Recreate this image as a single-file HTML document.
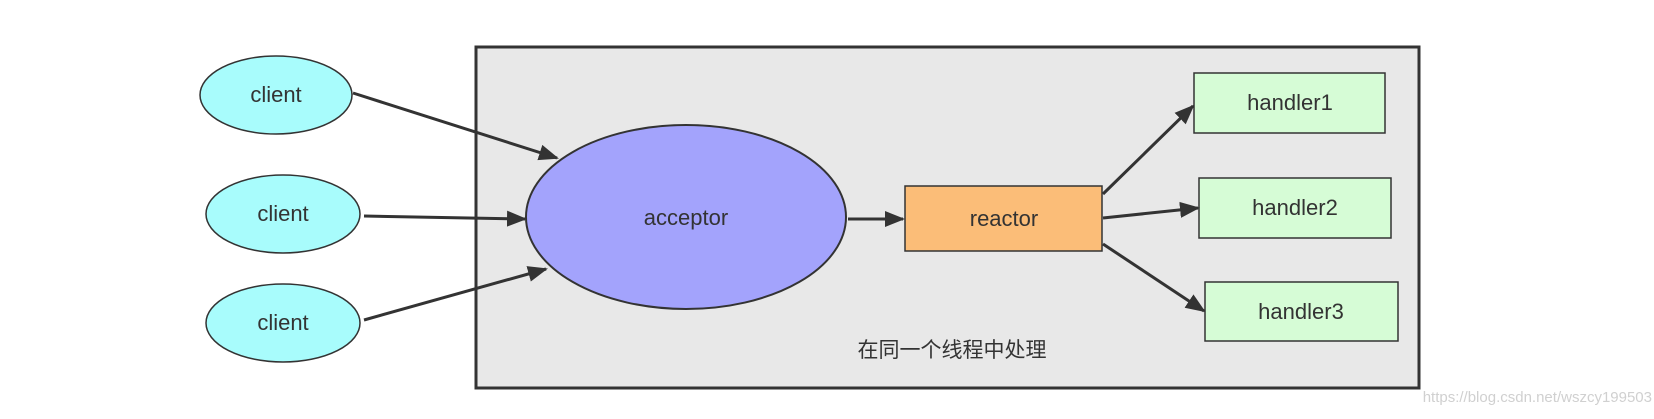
<!DOCTYPE html>
<html><head><meta charset="utf-8"><style>html,body{margin:0;padding:0;background:#fff}</style></head>
<body>
<svg width="1654" height="414" viewBox="0 0 1654 414" xmlns="http://www.w3.org/2000/svg" font-family="Liberation Sans, Noto Sans CJK SC, sans-serif">
<defs><marker id="a" markerWidth="20" markerHeight="20" refX="18" refY="8" orient="auto" markerUnits="userSpaceOnUse" viewBox="0 0 20 16"><path d="M0,0 L20,8 L0,16 z" fill="#333"/></marker></defs>
<rect x="476" y="47" width="943" height="341" fill="#e8e8e8" stroke="#333" stroke-width="3"/>
<g stroke="#333" stroke-width="1.5">
<ellipse cx="276" cy="95" rx="76" ry="39" fill="#a8fcfc"/>
<ellipse cx="283" cy="214" rx="77" ry="39" fill="#a8fcfc"/>
<ellipse cx="283" cy="323" rx="77" ry="39" fill="#a8fcfc"/>
<ellipse cx="686" cy="217" rx="160" ry="92" fill="#a3a3fc" stroke-width="2"/>
<rect x="905" y="186" width="197" height="65" fill="#fbbd78"/>
<rect x="1194" y="73" width="191" height="60" fill="#d6fcd6"/>
<rect x="1199" y="178" width="192" height="60" fill="#d6fcd6"/>
<rect x="1205" y="282" width="193" height="59" fill="#d6fcd6"/>
</g>
<g stroke="#333" stroke-width="3" marker-end="url(#a)" fill="none">
<line x1="353" y1="93" x2="557" y2="158"/>
<line x1="364" y1="216" x2="525" y2="219"/>
<line x1="364" y1="320" x2="546" y2="269"/>
<line x1="848" y1="219" x2="903" y2="219"/>
<line x1="1103" y1="194" x2="1193" y2="106"/>
<line x1="1103" y1="218" x2="1198" y2="208"/>
<line x1="1103" y1="244" x2="1204" y2="311"/>
</g>
<g font-size="22" fill="#333" text-anchor="middle">
<text x="276" y="102">client</text>
<text x="283" y="221">client</text>
<text x="283" y="330">client</text>
<text x="686" y="225">acceptor</text>
<text x="1004" y="226">reactor</text>
<text x="1290" y="110">handler1</text>
<text x="1295" y="215">handler2</text>
<text x="1301" y="319">handler3</text>
<text x="952" y="357" font-size="21">在同一个线程中处理</text>
</g>
<text x="1652" y="402" font-size="15" fill="#d0d0d0" text-anchor="end">https://blog.csdn.net/wszcy199503</text>
</svg>
</body></html>
